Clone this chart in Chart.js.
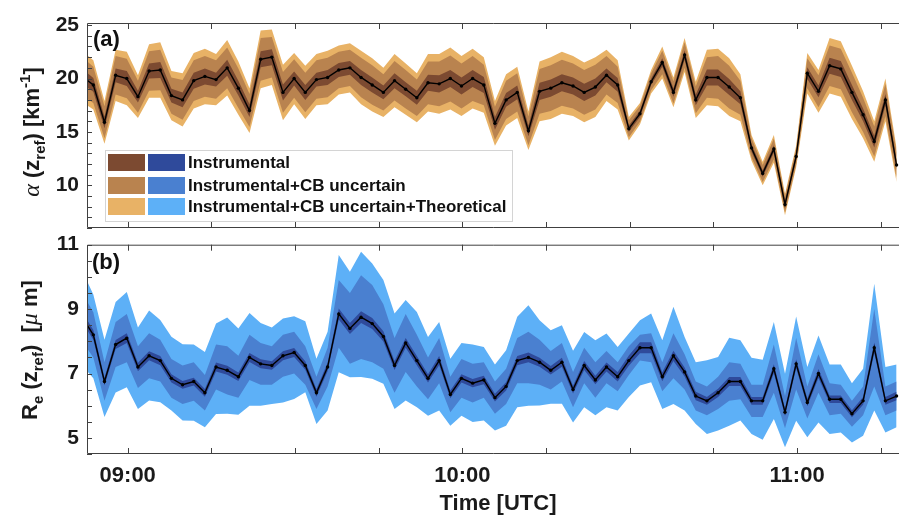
<!DOCTYPE html>
<html>
<head>
<meta charset="utf-8">
<script src="https://cdn.jsdelivr.net/npm/chart.js@4.4.0/dist/chart.umd.min.js"></script>
<style>
  body { margin: 0; background: #fff; }
  #wrap { position: relative; width: 899px; height: 520px; }
  canvas { position: absolute; left: 0; }
  #topChart { top: 0; }
  #botChart { top: 236px; }
</style>
</head>
<body>
<div id="wrap">
  <canvas id="topChart" width="899" height="236"></canvas>
  <canvas id="botChart" width="899" height="284"></canvas>
</div>
<script>
// --- DATA (one sample every 2 min) ---
const sampleTimes = [
  '08:51:50','08:53:50','08:55:50','08:57:50','08:59:50',
  '09:01:50','09:03:50','09:05:50','09:07:50','09:09:50','09:11:50','09:13:50','09:15:50','09:17:50','09:19:50',
  '09:21:50','09:23:50','09:25:50','09:27:50','09:29:50','09:31:50','09:33:50','09:35:50','09:37:50','09:39:50',
  '09:41:50','09:43:50','09:45:50','09:47:50','09:49:50','09:51:50','09:53:50','09:55:50','09:57:50','09:59:50',
  '10:01:50','10:03:50','10:05:50','10:07:50','10:09:50','10:11:50','10:13:50','10:15:50','10:17:50','10:19:50',
  '10:21:50','10:23:50','10:25:50','10:27:50','10:29:50','10:31:50','10:33:50','10:35:50','10:37:50','10:39:50',
  '10:41:50','10:43:50','10:45:50','10:47:50','10:49:50','10:51:50','10:53:50','10:55:50','10:57:50','10:59:50',
  '11:01:50','11:03:50','11:05:50','11:07:50','11:09:50','11:11:50','11:13:50','11:15:50','11:17:50'
];

// (a) extinction alpha(z_ref) [km-1] and half-widths of the three bands
const alphaVal = [
  20.2, 19.4, 15.9, 20.3, 20.0, 18.3, 20.7, 20.8, 18.4, 18.0,
  19.8, 20.2, 19.9, 21.0, 19.1, 17.0, 21.8, 22.0, 18.7, 20.0,
  18.7, 19.9, 20.1, 20.8, 21.0, 20.1, 19.4, 18.7, 19.8, 19.0,
  18.2, 19.6, 19.5, 20.0, 19.3, 20.0, 19.4, 15.8, 18.0, 18.7,
  15.1, 18.8, 19.1, 19.6, 19.3, 18.7, 19.2, 20.3, 19.4, 15.3,
  16.7, 19.7, 21.5, 18.7, 22.2, 18.0, 20.1, 20.1, 19.2, 18.2,
  13.5, 11.1, 13.4, 8.2, 12.7, 20.5, 18.8, 21.2, 20.9, 18.7,
  16.6, 14.1, 18.0, 11.9
];
const alphaTheo = [
  2.4, 2.3, 2.0, 2.4, 2.5, 2.0, 2.5, 2.6, 2.3, 2.5,
  2.6, 2.6, 2.4, 2.6, 2.5, 2.1, 2.7, 2.6, 2.6, 2.4,
  2.5, 2.4, 2.5, 2.3, 2.3, 2.5, 2.5, 2.3, 2.5, 2.4,
  2.3, 2.7, 2.8, 2.9, 2.8, 2.8, 2.6, 2.1, 2.4, 2.4,
  1.8, 2.8, 2.9, 2.9, 2.8, 2.8, 2.8, 2.4, 2.3, 1.1,
  1.0, 1.1, 1.5, 1.4, 1.6, 1.7, 2.6, 2.7, 2.7, 2.2,
  1.2, 1.1, 1.3, 1.0, 1.0, 1.9, 2.0, 2.6, 2.6, 2.5,
  2.2, 1.9, 2.0, 1.6
];
const alphaCB = [
  1.8, 1.7, 1.5, 1.8, 1.85, 1.5, 1.85, 1.9, 1.7, 1.85,
  1.9, 1.9, 1.8, 1.9, 1.85, 1.55, 2.0, 1.9, 1.9, 1.8,
  1.85, 1.8, 1.85, 1.7, 1.7, 1.85, 1.85, 1.7, 1.85, 1.8,
  1.7, 2.0, 2.1, 2.15, 2.1, 2.1, 1.9, 1.55, 1.8, 1.8,
  1.35, 2.1, 2.15, 2.15, 2.1, 2.1, 2.1, 1.8, 1.7, 0.8,
  0.75, 0.8, 1.1, 1.05, 1.2, 1.25, 1.9, 2.0, 2.0, 1.6,
  0.9, 0.8, 0.95, 0.75, 0.75, 1.4, 1.5, 1.9, 1.9, 1.85,
  1.6, 1.4, 1.5, 1.2
];
const alphaInst = [
  0.7, 0.65, 0.55, 0.65, 0.7, 0.55, 0.7, 0.75, 0.65, 0.7,
  0.75, 0.75, 0.65, 0.75, 0.7, 0.6, 0.75, 0.75, 0.75, 0.65,
  0.7, 0.65, 0.7, 0.65, 0.65, 0.7, 0.7, 0.65, 0.7, 0.65,
  0.65, 0.75, 0.8, 0.8, 0.8, 0.8, 0.75, 0.6, 0.65, 0.65,
  0.5, 0.8, 0.8, 0.8, 0.8, 0.8, 0.8, 0.65, 0.65, 0.3,
  0.3, 0.3, 0.4, 0.4, 0.45, 0.5, 0.75, 0.75, 0.75, 0.6,
  0.35, 0.3, 0.35, 0.3, 0.3, 0.55, 0.55, 0.75, 0.75, 0.7,
  0.6, 0.55, 0.55, 0.45
];

// (b) effective radius Re(z_ref) [um]
const reVal = [
  8.75, 8.2, 6.75, 7.9, 8.1, 7.2, 7.55, 7.4, 6.85, 6.65,
  6.75, 6.4, 7.2, 7.1, 6.9, 7.5, 7.3, 7.25, 7.55, 7.65,
  7.25, 6.4, 7.2, 8.85, 8.4, 8.75, 8.55, 8.15, 7.25, 7.95,
  7.4, 6.85, 7.4, 6.35, 6.85, 6.7, 6.8, 6.25, 6.6, 7.4,
  7.5, 7.35, 7.1, 7.35, 6.5, 7.25, 6.8, 7.2, 6.9, 7.4,
  7.8, 7.8, 6.9, 7.55, 7.05, 6.3, 6.15, 6.4, 6.75, 6.75,
  6.15, 6.15, 7.15, 5.8, 7.3, 6.1, 7.0, 6.2, 6.2, 5.75,
  6.15, 7.8, 6.15, 6.3
];
const reTheoUp = [
  1.45, 1.25, 1.3, 1.32, 1.43, 1.23, 1.41, 1.26, 1.29, 1.26,
  1.15, 1.27, 1.35, 1.64, 1.5, 1.38, 1.27, 1.18, 1.16, 1.13,
  1.37, 1.06, 1.1, 1.83, 1.76, 2.03, 1.87, 1.75, 1.61, 1.33,
  1.51, 1.28, 1.2, 1.11, 1.1, 1.2, 1.02, 1.03, 1.12, 1.36,
  1.62, 1.3, 1.24, 1.15, 1.21, 1.04, 1.23, 1.04, 0.92, 0.84,
  0.85, 1.06, 1.13, 1.52, 1.08, 1.05, 1.26, 1.11, 1.36, 1.28,
  1.34, 1.28, 1.45, 1.19, 1.47, 1.1, 1.18, 1.08, 1.08, 0.95,
  1.0, 1.99, 1.05, 0.98
];
const reTheoDn = [
  1.5, 1.35, 1.1, 1.49, 1.53, 1.3, 1.39, 1.29, 1.0, 1.11,
  1.22, 1.07, 1.46, 1.35, 1.18, 1.5, 1.3, 1.2, 1.45, 1.44,
  0.83, 0.97, 1.35, 1.81, 1.52, 1.86, 1.71, 1.47, 1.35, 1.79,
  1.45, 1.16, 1.55, 0.97, 1.16, 1.21, 1.26, 1.02, 1.22, 1.45,
  1.5, 1.34, 1.04, 1.29, 1.02, 1.3, 1.1, 1.25, 1.05, 1.13,
  1.17, 1.07, 1.0, 1.5, 1.2, 0.87, 1.03, 1.17, 1.37, 1.21,
  1.03, 1.21, 1.56, 1.09, 1.77, 1.08, 1.52, 1.08, 1.03, 0.89,
  1.08, 1.95, 0.98, 0.97
];
const reCB = [
  0.75, 0.7, 0.6, 0.7, 0.75, 0.65, 0.7, 0.65, 0.6, 0.6,
  0.6, 0.55, 0.7, 0.75, 0.65, 0.7, 0.65, 0.6, 0.65, 0.65,
  0.6, 0.5, 0.6, 1.05, 1.1, 1.3, 1.2, 1.0, 0.85, 0.9,
  0.8, 0.65, 0.7, 0.55, 0.6, 0.6, 0.55, 0.5, 0.55, 0.7,
  0.8, 0.7, 0.6, 0.6, 0.55, 0.55, 0.55, 0.5, 0.45, 0.45,
  0.4, 0.45, 0.45, 0.7, 0.55, 0.45, 0.45, 0.5, 0.6, 0.55,
  0.5, 0.5, 0.75, 0.5, 0.8, 0.5, 0.6, 0.5, 0.45, 0.4,
  0.45, 1.2, 0.45, 0.45
];
const reInst = [
  0.16, 0.15, 0.12, 0.14, 0.15, 0.13, 0.14, 0.14, 0.13, 0.12,
  0.12, 0.12, 0.14, 0.14, 0.13, 0.14, 0.14, 0.13, 0.14, 0.14,
  0.13, 0.12, 0.13, 0.17, 0.17, 0.18, 0.17, 0.16, 0.14, 0.15,
  0.14, 0.13, 0.14, 0.12, 0.13, 0.13, 0.13, 0.12, 0.13, 0.14,
  0.15, 0.14, 0.13, 0.14, 0.12, 0.14, 0.13, 0.14, 0.15, 0.16,
  0.17, 0.17, 0.14, 0.16, 0.14, 0.13, 0.12, 0.13, 0.14, 0.14,
  0.12, 0.12, 0.14, 0.12, 0.14, 0.12, 0.14, 0.12, 0.12, 0.11,
  0.12, 0.16, 0.12, 0.13
];

const legendLabels = ['Instrumental', 'Instrumental+CB uncertain', 'Instrumental+CB uncertain+Theoretical'];
const brownShades = ['#7c4a31', '#b9834f', '#e8b266'];
const blueShades = ['#2f4a9b', '#4a80d0', '#5db0f7'];

// --- HELPERS ---
const FAM = '"Liberation Sans", Arial, Helvetica, sans-serif';
const SERIF = '"Liberation Serif", "Times New Roman", serif';
const AXIS = '#404040';

// minutes after 08:00
const tMin = sampleTimes.map(s => {
  const [h, m, sec] = s.split(':').map(Number);
  return h * 60 + m + sec / 60 - 480;
});
const X_MIN = 52.7, X_MAX = 198.27;

const pts = ys => ys.map((y, i) => ({ x: tMin[i], y: y }));
const add = (a, b, sign) => a.map((v, i) => v + sign * b[i]);

function bandDatasets(val, lo3, hi3, lo2, hi2, lo1, hi1, shades) {
  const band = (data, fill, color, order) => ({
    data: pts(data), fill: fill, backgroundColor: color,
    borderColor: 'rgba(0,0,0,0)', borderWidth: 0, pointRadius: 0, order: order
  });
  return [
    band(lo3, false, 'rgba(0,0,0,0)', 7),
    band(hi3, '-1', shades[2], 6),
    band(lo2, false, 'rgba(0,0,0,0)', 5),
    band(hi2, '-1', shades[1], 4),
    band(lo1, false, 'rgba(0,0,0,0)', 3),
    band(hi1, '-1', shades[0], 2),
    {
      data: pts(val), fill: false, borderColor: '#000', borderWidth: 1.4,
      pointRadius: 1.7, pointBackgroundColor: '#000', pointBorderWidth: 0, order: 1
    }
  ];
}

// draws a line of text made of pieces (sub/superscripts), centred on (cx, cy)
function drawRich(ctx, parts, cx, cy, rotate) {
  ctx.save();
  ctx.translate(cx, cy);
  if (rotate) ctx.rotate(-Math.PI / 2);
  let total = 0;
  parts.forEach(p => { ctx.font = p.font; p.w = ctx.measureText(p.text).width; total += p.w; });
  let x = -total / 2;
  ctx.textBaseline = 'alphabetic';
  ctx.fillStyle = '#1a1a1a';
  parts.forEach(p => { ctx.font = p.font; ctx.fillText(p.text, x, 8 + (p.dy || 0)); x += p.w; });
  ctx.restore();
}

function framePlugin(cfg) {
  return {
    id: 'frame' + cfg.name,
    afterDraw(chart) {
      const { ctx, chartArea: a, scales } = chart;
      ctx.save();
      ctx.strokeStyle = AXIS;
      ctx.lineWidth = 1;
      ctx.beginPath();
      ctx.moveTo(a.right + 1, a.top + 0.5); ctx.lineTo(a.left + 0.5, a.top + 0.5);
      ctx.lineTo(a.left + 0.5, a.bottom - 0.5); ctx.lineTo(a.right + 1, a.bottom - 0.5);
      // x ticks, inward on top and bottom
      scales.x.ticks.forEach(t => {
        const px = Math.round(scales.x.getPixelForValue(t.value)) + 0.5;
        ctx.moveTo(px, a.top); ctx.lineTo(px, a.top + 6);
        ctx.moveTo(px, a.bottom); ctx.lineTo(px, a.bottom - 6);
      });
      // y minor ticks
      const ys = scales.y;
      for (let v = Math.ceil(ys.min / cfg.minorStep) * cfg.minorStep; v <= ys.max + 1e-9; v += cfg.minorStep) {
        const py = Math.round(ys.getPixelForValue(v)) + 0.5;
        ctx.moveTo(a.left, py); ctx.lineTo(a.left + 5, py);
      }
      ctx.stroke();

      // panel letter
      ctx.fillStyle = '#111';
      ctx.font = 'bold 22px ' + FAM;
      ctx.textBaseline = 'middle';
      ctx.textAlign = 'left';
      ctx.fillText(cfg.letter, cfg.letterX, cfg.letterY);

      // y title
      drawRich(ctx, cfg.yTitle, cfg.yTitleX, cfg.yTitleY, true);

      if (cfg.xTitle) {
        ctx.fillStyle = '#1a1a1a';
        ctx.font = 'bold 22px ' + FAM;
        ctx.textAlign = 'center';
        ctx.textBaseline = 'middle';
        ctx.fillText(cfg.xTitle, cfg.xTitleX, cfg.xTitleY);
      }

      if (cfg.legend) {
        const L = { x: 105, y: 150, w: 407, h: 71 };
        ctx.fillStyle = '#fff';
        ctx.fillRect(L.x, L.y, L.w, L.h);
        ctx.strokeStyle = '#d4d4d4';
        ctx.strokeRect(L.x + 0.5, L.y + 0.5, L.w, L.h);
        const rowY = [154, 177, 198];
        legendLabels.forEach((lab, i) => {
          ctx.fillStyle = brownShades[i];
          ctx.fillRect(108, rowY[i], 37, 17);
          ctx.fillStyle = blueShades[i];
          ctx.fillRect(148, rowY[i], 37, 17);
          ctx.fillStyle = '#111';
          ctx.font = 'bold 17px ' + FAM;
          ctx.textAlign = 'left';
          ctx.textBaseline = 'middle';
          ctx.fillText(lab, 188, rowY[i] + 9);
        });
      }
      ctx.restore();
    }
  };
}

function makeChart(canvasId, opts) {
  const tickFont = { family: FAM, size: 21, weight: 'bold' };
  return new Chart(document.getElementById(canvasId), {
    type: 'line',
    data: { datasets: opts.datasets },
    options: {
      responsive: false,
      animation: false,
      devicePixelRatio: 1,
      layout: { autoPadding: false, padding: { top: opts.padTop, right: 0, left: 0, bottom: 0 } },
      plugins: { legend: { display: false }, tooltip: { enabled: false } },
      elements: { line: { tension: 0 } },
      scales: {
        x: {
          type: 'linear', min: X_MIN, max: X_MAX,
          grid: { display: false, drawTicks: false }, border: { display: false },
          afterBuildTicks: s => {
            const t = [];
            for (let v = Math.ceil(s.min / 15) * 15; v <= s.max; v += 15) t.push({ value: v });
            s.ticks = t;
          },
          afterFit: s => { s.height = opts.xHeight; s.paddingLeft = 0; s.paddingRight = 0; },
          ticks: {
            display: opts.showX, autoSkip: false, maxRotation: 0, padding: 9,
            font: { family: FAM, size: 22, weight: 'bold' }, color: '#1a1a1a',
            callback: v => (Math.abs(v % 60) < 1e-6) ? String(8 + v / 60).padStart(2, '0') + ':00' : ''
          }
        },
        y: {
          min: opts.yMin, max: opts.yMax,
          grid: { display: false, drawTicks: false }, border: { display: false },
          afterBuildTicks: s => { s.ticks = opts.yTicks.map(v => ({ value: v })); },
          afterFit: s => { s.width = 87; s.paddingTop = 0; s.paddingBottom = 0; },
          ticks: { autoSkip: false, padding: 8, font: tickFont, color: '#1a1a1a' }
        }
      }
    },
    plugins: [framePlugin(opts.frame)]
  });
}

const B = 'bold 22px ' + FAM, S = 'bold 15px ' + FAM;

// --- (a) ---
makeChart('topChart', {
  datasets: bandDatasets(
    alphaVal,
    add(alphaVal, alphaTheo, -1), add(alphaVal, alphaTheo, 1),
    add(alphaVal, alphaCB, -1), add(alphaVal, alphaCB, 1),
    add(alphaVal, alphaInst, -1), add(alphaVal, alphaInst, 1),
    brownShades),
  padTop: 23, xHeight: 8, showX: false,
  yMin: 6, yMax: 25.2, yTicks: [10, 15, 20, 25],
  frame: {
    name: 'A', minorStep: 1, letter: '(a)', letterX: 93, letterY: 40,
    yTitleX: 31, yTitleY: 132, legend: true,
    yTitle: [
      { text: '\u03b1', font: 'italic 24px ' + SERIF },
      { text: ' (z', font: B }, { text: 'ref', font: S, dy: 6 },
      { text: ') [km', font: B }, { text: '-1', font: S, dy: -9 }, { text: ']', font: B }
    ]
  }
});

// --- (b) ---
makeChart('botChart', {
  datasets: bandDatasets(
    reVal,
    add(reVal, reTheoDn, -1), add(reVal, reTheoUp, 1),
    add(reVal, reCB, -1), add(reVal, reCB, 1),
    add(reVal, reInst, -1), add(reVal, reInst, 1),
    blueShades),
  padTop: 8.7, xHeight: 66, showX: true,
  yMin: 4.5, yMax: 11, yTicks: [5, 7, 9, 11],
  frame: {
    name: 'B', minorStep: 0.5, letter: '(b)', letterX: 92, letterY: 27,
    yTitleX: 29, yTitleY: 114, legend: false,
    xTitle: 'Time [UTC]', xTitleX: 498, xTitleY: 268,
    yTitle: [
      { text: 'R', font: B }, { text: 'e', font: S, dy: 6 },
      { text: ' (z', font: B }, { text: 'ref', font: S, dy: 6 },
      { text: ')  [', font: B }, { text: '\u03bc', font: 'italic 24px ' + SERIF },
      { text: ' m]', font: B }
    ]
  }
});
</script>
</body>
</html>
